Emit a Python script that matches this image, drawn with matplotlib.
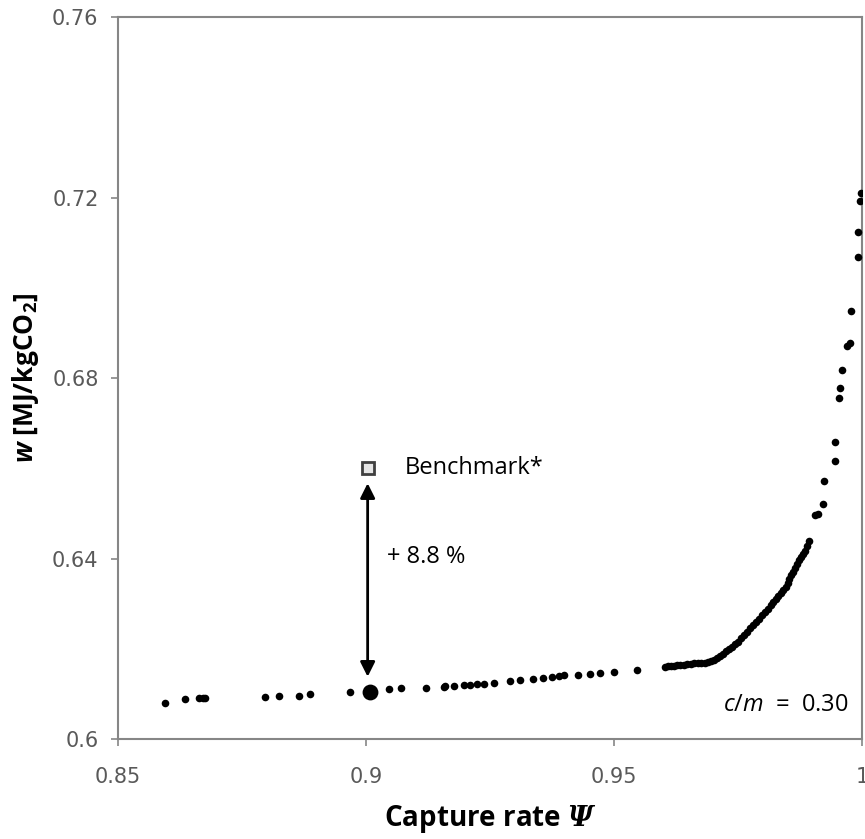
import matplotlib
matplotlib.use("Agg")
import matplotlib.pyplot as plt

# capture rate / specific work
psi = [0.8594, 0.8636, 0.8663, 0.8671, 0.8676, 0.8797, 0.8824, 0.8864, 0.8887, 0.8968,
       0.9047, 0.9071, 0.9121, 0.9156, 0.9159, 0.9176, 0.9197, 0.9210, 0.9223, 0.9237,
       0.9257, 0.9289, 0.9309, 0.9336, 0.9356, 0.9374, 0.9388, 0.9398, 0.9426, 0.9452,
       0.9471, 0.9499, 0.9546,
       0.9602, 0.9608, 0.9614, 0.9620, 0.9627, 0.9633, 0.9640, 0.9647, 0.9654, 0.9661,
       0.9668, 0.9675, 0.9682, 0.9689, 0.9695,
       0.9701, 0.9707, 0.9713, 0.9719, 0.9725, 0.9731, 0.9737, 0.9743, 0.9749, 0.9755,
       0.9761, 0.9767, 0.9773, 0.9779, 0.9785, 0.9791, 0.9797, 0.9803, 0.9809, 0.9815,
       0.9820, 0.9825, 0.9830, 0.9835, 0.9840, 0.9845, 0.9849, 0.9852, 0.9856, 0.9860,
       0.9864, 0.9868, 0.9872, 0.9876, 0.9880, 0.9884, 0.9889, 0.9893,
       0.9904, 0.9911, 0.9920, 0.9922, 0.9945, 0.9945, 0.9953, 0.9954, 0.9958, 0.9968,
       0.9974, 0.9976, 0.9990, 0.9990, 0.9994, 0.9997]
work = [0.6079, 0.6088, 0.6090, 0.6090, 0.6090, 0.6092, 0.6095, 0.6096, 0.6099, 0.6105,
        0.6111, 0.6112, 0.6112, 0.6116, 0.6117, 0.6118, 0.6120, 0.6120, 0.6121, 0.6123,
        0.6124, 0.6128, 0.6130, 0.6133, 0.6135, 0.6137, 0.6140, 0.6142, 0.6142, 0.6143,
        0.6146, 0.6148, 0.6153,
        0.6160, 0.6161, 0.6161, 0.6162, 0.6163, 0.6164, 0.6165, 0.6166, 0.6167, 0.6168,
        0.6168, 0.6169, 0.6169, 0.6170, 0.6172,
        0.6175, 0.6179, 0.6184, 0.6189, 0.6194, 0.6199, 0.6205, 0.6210, 0.6216, 0.6223,
        0.6230, 0.6237, 0.6245, 0.6252, 0.6259, 0.6266, 0.6274, 0.6281, 0.6288, 0.6296,
        0.6303, 0.6310, 0.6317, 0.6324, 0.6330, 0.6337, 0.6345, 0.6354, 0.6363, 0.6371,
        0.6380, 0.6388, 0.6396, 0.6404, 0.6410, 0.6416, 0.6428, 0.6440,
        0.6497, 0.6499, 0.6522, 0.6572, 0.6617, 0.6659, 0.6755, 0.6779, 0.6818, 0.6871,
        0.6877, 0.6948, 0.7069, 0.7125, 0.7193, 0.7210]

design_psi = 0.9007
design_w = 0.6104
bench_psi = 0.9003
bench_w = 0.6601
arrow_top = 0.6567
arrow_bottom = 0.6138

xticks = [0.85, 0.9, 0.95, 1.0]
xlabels = ['0.85', '0.9', '0.95', '1']
yticks = [0.6, 0.64, 0.68, 0.72, 0.76]
ylabels = ['0.6', '0.64', '0.68', '0.72', '0.76']

plt.rcParams['mathtext.fontset'] = 'custom'
plt.rcParams['mathtext.rm'] = 'Open Sans'
plt.rcParams['mathtext.it'] = 'Open Sans:italic'
plt.rcParams['mathtext.bf'] = 'Open Sans:bold'
plt.rcParams['mathtext.sf'] = 'Open Sans:bold:italic'
plt.rcParams['mathtext.bfit'] = 'DejaVu Serif:italic:bold'

fig = plt.figure(figsize=(8.65, 8.39), dpi=100)
ax = fig.add_axes([0.1364, 0.1192, 0.8607, 0.8602])

ax.scatter(psi, work, s=30, color='black', zorder=3, linewidths=0)
ax.scatter([design_psi], [design_w], s=130, color='black', zorder=4, linewidths=0)
ax.plot([bench_psi], [bench_w], marker='s', ms=8, mfc='#e6e6e6', mec='#404040', mew=2, zorder=4)
ax.annotate('', xy=(bench_psi, arrow_top), xytext=(bench_psi, arrow_bottom),
            arrowprops=dict(arrowstyle='<|-|>', color='black', lw=2, mutation_scale=22,
                            shrinkA=0, shrinkB=0))

ax.text(0.9078, bench_w, 'Benchmark*', fontsize=17, family='Open Sans', va='center')
ax.text(0.9042, 0.6403, '+ 8.8 %', fontsize=17, family='Open Sans', va='center')
ax.text(0.9971, 0.6075, '$c/m$  =  0.30', fontsize=17, family='Open Sans', va='center', ha='right')

ax.set_xlim(0.85, 1.0)
ax.set_ylim(0.6, 0.76)
ax.set_xticks(xticks)
ax.set_xticklabels(xlabels)
ax.set_yticks(yticks)
ax.set_yticklabels(ylabels)
ax.tick_params(direction='out', length=5, width=1.2, color='#868686', labelcolor='#595959',
               labelsize=15)
for lab in ax.get_xticklabels() + ax.get_yticklabels():
    lab.set_family('DejaVu Sans')
ax.tick_params(axis='x', pad=15)
ax.tick_params(axis='y', pad=9)
for sp in ax.spines.values():
    sp.set_color('#868686')
    sp.set_linewidth(1.5)

ax.set_xlabel(r'Capture rate $\mathbfit{\Psi}$', fontsize=20, fontweight='bold',
              family='Open Sans', labelpad=12)
ax.set_ylabel(r'$\mathsf{w}$ [MJ/kgCO$_\mathbf{2}$]', fontsize=19, fontweight='bold',
              family='Open Sans', labelpad=8)

fig.savefig('out.png', dpi=100)
